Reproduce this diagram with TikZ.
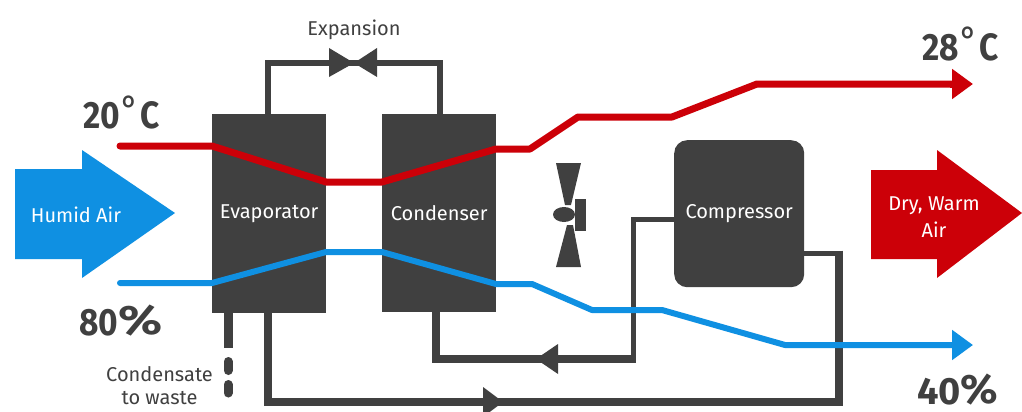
\documentclass[tikz,border=0pt]{standalone}
\usepackage{fontspec}
\setmainfont{Fira Sans}
\usetikzlibrary{arrows.meta}
\definecolor{dk}{HTML}{404040}
\definecolor{rd}{HTML}{CC0008}
\definecolor{bl}{HTML}{0F90E2}
\newcommand{\degmark}{\kern2pt\raisebox{6pt}{\fontsize{38}{38}\selectfont\mdseries°}\kern1pt}
\newcommand{\narrowtxt}[1]{\scalebox{0.88}[1]{#1}}
\newcommand{\widepct}[1]{\raisebox{1pt}{\scalebox{#1}[1.08]{\%}}}
\tikzset{
  x=1pt,y=-1pt,
  unit/.style={fill=dk,inner sep=0pt,text=white,font=\fontsize{20}{24}\selectfont,anchor=north west},
  pipe/.style={draw=dk,line width=8pt,line join=miter},
  toppipe/.style={draw=dk,line width=6.5pt,line join=miter},
  thinpipe/.style={draw=dk,line width=5pt,line join=miter},
  airline/.style={line width=#1,line join=round},
  label/.style={text=dk,inner sep=0pt,font=\fontsize{20}{23}\selectfont,align=center},
  big/.style={text=dk,inner sep=0pt,anchor=base west,font=\fontsize{38}{40}\selectfont\bfseries},
  airtext/.style={text=white,inner sep=0pt,font=\fontsize{20}{27}\selectfont,align=center},
  flowtip/.style={-{Triangle[length=21pt,width=29pt]}},
  pipetip/.style={fill=dk},
}
\begin{document}
\begin{tikzpicture}
\useasboundingbox[fill=white] (0,0) rectangle (1022,412);
% large air arrows
\fill[bl] (15,169) -- (82,169) -- (82,150) -- (175,213) -- (82,278) -- (82,259) -- (15,259) -- cycle;
\fill[rd] (871,170) -- (937,170) -- (937,150) -- (1022,213) -- (937,278) -- (937,259) -- (871,259) -- cycle;
\node[airtext] (humid) at (76,215) {Humid Air};
\node[airtext] (dry) at (934,217) {Dry, Warm\\Air};
% units
\node[unit,minimum width=114pt,minimum height=199pt] (evap) at (212,114) {Evaporator};
\node[unit,minimum width=114pt,minimum height=198pt] (cond) at (382,114) {Condenser};
\node[unit,rounded corners=13pt,minimum width=130pt,minimum height=147pt] (comp) at (674,140) {Compressor};
% coordinates
\coordinate (evt) at (268,114);
\coordinate (evb) at (268,313);
\coordinate (cot) at (440,114);
\coordinate (cob) at (436,312);
\coordinate (cpl) at (674,219);
\coordinate (cpr) at (804,253);
\coordinate (valve) at (354,63);
\coordinate (drain) at (228,313);
\coordinate (drainend) at (228,393);
% refrigerant circuit
\draw[toppipe] (evt) |- (valve) -| (cot);
\fill[dk] (valve) -- (329,48) -- (329,77) -- cycle;
\fill[dk] (valve) -- (377,48) -- (377,77) -- cycle;
\draw[thinpipe] (cpl) -- (633,219) -- (633,361);
\draw[pipe] (635.5,359) -- (436,359) -- (cob);
\draw[thinpipe] (cpr) -- (843,253);
\draw[pipe] (839,250.5) -- (839,402) -- (268,402) -- (evb);
\fill[pipetip] (536,359) -- (558,344) -- (558,374) -- cycle;
\fill[pipetip] (503,402) -- (483,387) -- (483,417) -- cycle;
\draw[draw=dk,line width=9pt] (drain) -- (228,348);
\draw[draw=dk,line width=9pt,line cap=round] (228,361.5) -- (228,370.5);
\draw[draw=dk,line width=9pt,line cap=round] (228,384.5) -- (drainend);
% fan
\fill[dk] (556,163) -- (581,163) -- (571,205) -- (565,205) -- cycle;
\fill[dk] (556,267) -- (581,267) -- (573,225) -- (567,225) -- cycle;
\fill[dk] (575,199) rectangle (586,231);
\fill[dk] (564,214.5) ellipse [x radius=11pt,y radius=7.5pt];
% air lines
\coordinate (rs) at (120,146);
\coordinate (re) at (973,84);
\coordinate (bs) at (120,283);
\coordinate (be) at (973,345);
\draw[rd,airline=7pt,line cap=round] (rs) -- (212,146) -- (326,182) -- (382,182) -- (496,149) -- (530,149) -- (578,117) -- (672,117) -- (757,84) -- (952,84);
\draw[rd,airline=7pt,flowtip] (950,84) -- (re);
\draw[bl,airline=6pt,line cap=round] (bs) -- (212,283) -- (326,252) -- (382,252) -- (496,284) -- (532,284) -- (592,310) -- (662,310) -- (785,345) -- (952,345);
\draw[bl,airline=6pt,flowtip] (950,345) -- (be);
% labels
\node[label] (exp) at (354,30) {Expansion};
\node[label] (waste) at (159.5,386) {Condensate\\to waste};
\node[big] (t1) at (83,128) {\narrowtxt{20\degmark C}};
\node[big] (t2) at (922,60) {\narrowtxt{28\degmark C}};
\node[big] (h1) at (79,335) {\narrowtxt{80}\widepct{1.35}};
\node[big] (h2) at (917,404) {40\widepct{1.15}};
\end{tikzpicture}
\end{document}
